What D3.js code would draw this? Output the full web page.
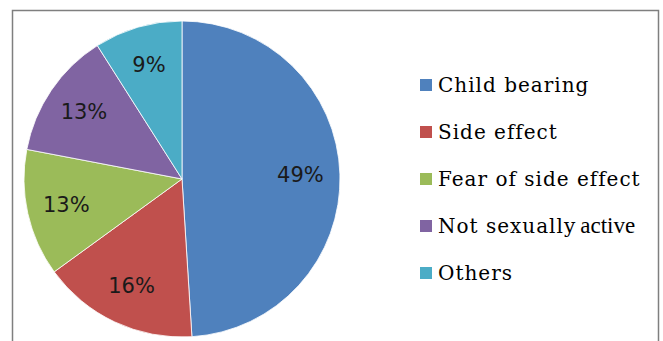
<!DOCTYPE html>
<html><head><meta charset="utf-8">
<script src="https://cdn.jsdelivr.net/npm/d3@7"></script>
<style>html,body{margin:0;padding:0;background:#fff;}svg{display:block;}</style>
</head><body>
<script>
const categories = ["Child bearing", "Side effect", "Fear of side effect", "Not sexually active", "Others"];
const values = [49, 16, 13, 13, 9];
const colors = ["#4F81BD", "#C0504D", "#9BBB59", "#8064A2", "#4BACC6"];

const W = 663, H = 341;
const svg = d3.select("body").append("svg").attr("width", W).attr("height", H);

// frame (bottom edge cut off)
svg.append("path")
  .attr("d", `M12.5,${H+5} L12.5,10.5 L658.5,10.5 L658.5,${H+5}`)
  .attr("fill", "none").attr("stroke", "#7f7f7f").attr("stroke-width", 1.5);

const cx = 182, cy = 179, r = 158;
const data = categories.map((c, i) => ({ name: c, value: values[i], color: colors[i] }));
const pie = d3.pie().value(d => d.value).sort(null);
const arcs = pie(data);
const arc = d3.arc().innerRadius(0).outerRadius(r);
const labelArc = d3.arc().innerRadius(r * 0.75).outerRadius(r * 0.75);

const g = svg.append("g").attr("transform", `translate(${cx},${cy})`);
g.selectAll("path.slice").data(arcs).enter().append("path")
  .attr("class", "slice")
  .attr("d", arc)
  .attr("fill", d => d.data.color)
  .attr("stroke", "#ffffff").attr("stroke-width", 0.8);

g.selectAll("text.lbl").data(arcs).enter().append("text")
  .attr("class", "lbl")
  .attr("transform", d => `translate(${labelArc.centroid(d)})`)
  .attr("text-anchor", "middle")
  .attr("dominant-baseline", "central")
  .attr("font-family", "DejaVu Sans, sans-serif")
  .attr("font-size", 21)
  .attr("fill", "#1a1a1a")
  .text(d => d.data.value + "%");

// legend
const ly = d3.scalePoint().domain(categories).range([85, 273]);
const lg = svg.append("g");
const items = lg.selectAll("g").data(data).enter().append("g")
  .attr("transform", d => `translate(420,${ly(d.name)})`);
items.append("rect").attr("x", 0).attr("y", -6).attr("width", 12).attr("height", 12)
  .attr("fill", d => d.color);
items.each(function(d) {
  const sel = d3.select(this);
  const isSplit = d.name === "Not sexually active";
  const first = isSplit ? "Not sexually" : d.name;
  const t = sel.append("text")
    .attr("x", 18).attr("y", 7)
    .attr("fill", "#000")
    .attr("font-size", 20)
    .attr("font-family", "DejaVu Serif, serif")
    .attr("letter-spacing", 1)
    .text(first);
  if (isSplit) {
    const w = t.node().getComputedTextLength();
    sel.append("text")
      .attr("x", 18 + w + 4).attr("y", 7)
      .attr("fill", "#000")
      .attr("font-size", 23)
      .attr("font-family", "Liberation Serif, serif")
      .text("active");
  }
});
</script>
</body></html>
